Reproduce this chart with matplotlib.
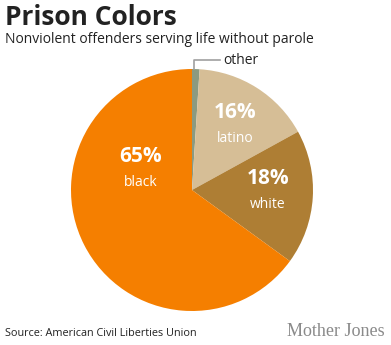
import matplotlib
matplotlib.use("Agg")
import matplotlib.pyplot as plt

# data, clockwise from the top
groups = ["other", "latino", "white", "black"]
shares = [1, 16, 18, 65]
colors = ["#8b9a80", "#d6be96", "#ae7e34", "#f57f00"]
pct_labels = ["", "16%", "18%", "65%"]

W, H = 391, 345
fig = plt.figure(figsize=(W / 100, H / 100), dpi=100)

# pie centre / radius in pixels
cx, cy, r = 192, 190, 121
ax = fig.add_axes([(cx - r) / W, (H - cy - r) / H, 2 * r / W, 2 * r / H])
ax.pie(shares, colors=colors, startangle=90, counterclock=False, radius=1,
       wedgeprops=dict(linewidth=0))
ax.set_xlim(-1, 1)
ax.set_ylim(-1, 1)
ax.set_aspect("equal")
ax.axis("off")

def d(px, py):
    return (px - cx) / r, (cy - py) / r

fam = ["Open Sans", "DejaVu Sans"]
# slice labels (pixel spots)
spots = {"latino": (235, 113), "white": (268, 179), "black": (141, 157)}
for g, p in zip(groups, pct_labels):
    if g not in spots:
        continue
    x, y = d(*spots[g])
    ax.text(x, y, p, color="white", fontsize=15, fontweight="bold",
            ha="center", va="center", family=fam)
    x2, y2 = d(spots[g][0], spots[g][1] + 25)
    ax.text(x2, y2, g, color="white", fontsize=10, ha="center", va="center",
            family=fam)

# leader line for "other"
lx = [d(194, 69)[0], d(194, 60)[0], d(220, 60)[0]]
ly = [d(194, 69)[1], d(194, 60)[1], d(220, 60)[1]]
ax.plot(lx, ly, color="#a0a0a0", lw=1.2, clip_on=False)
ox, oy = d(223, 61)
ax.text(ox, oy, groups[0], color="#222222", fontsize=10, ha="left",
        va="center", family=fam, clip_on=False)

fig.text(5 / W, 1 - 4 / H, "Prison Colors", fontsize=19, fontweight="bold",
         color="#222222", ha="left", va="top", family=fam)
fig.text(5 / W, 1 - 32 / H, "Nonviolent offenders serving life without parole",
         fontsize=10, color="#222222", ha="left", va="top", family=fam)
fig.text(5 / W, 1 - 333 / H, "Source: American Civil Liberties Union",
         fontsize=7.8, color="#222222", ha="left", va="center", family=fam)
fig.text(385 / W, 1 - 331 / H, "Mother Jones", fontsize=13, color="#8a8a8a",
         ha="right", va="center", family=["Liberation Serif", "DejaVu Serif"])

fig.savefig("out.png", dpi=100, facecolor="white")
